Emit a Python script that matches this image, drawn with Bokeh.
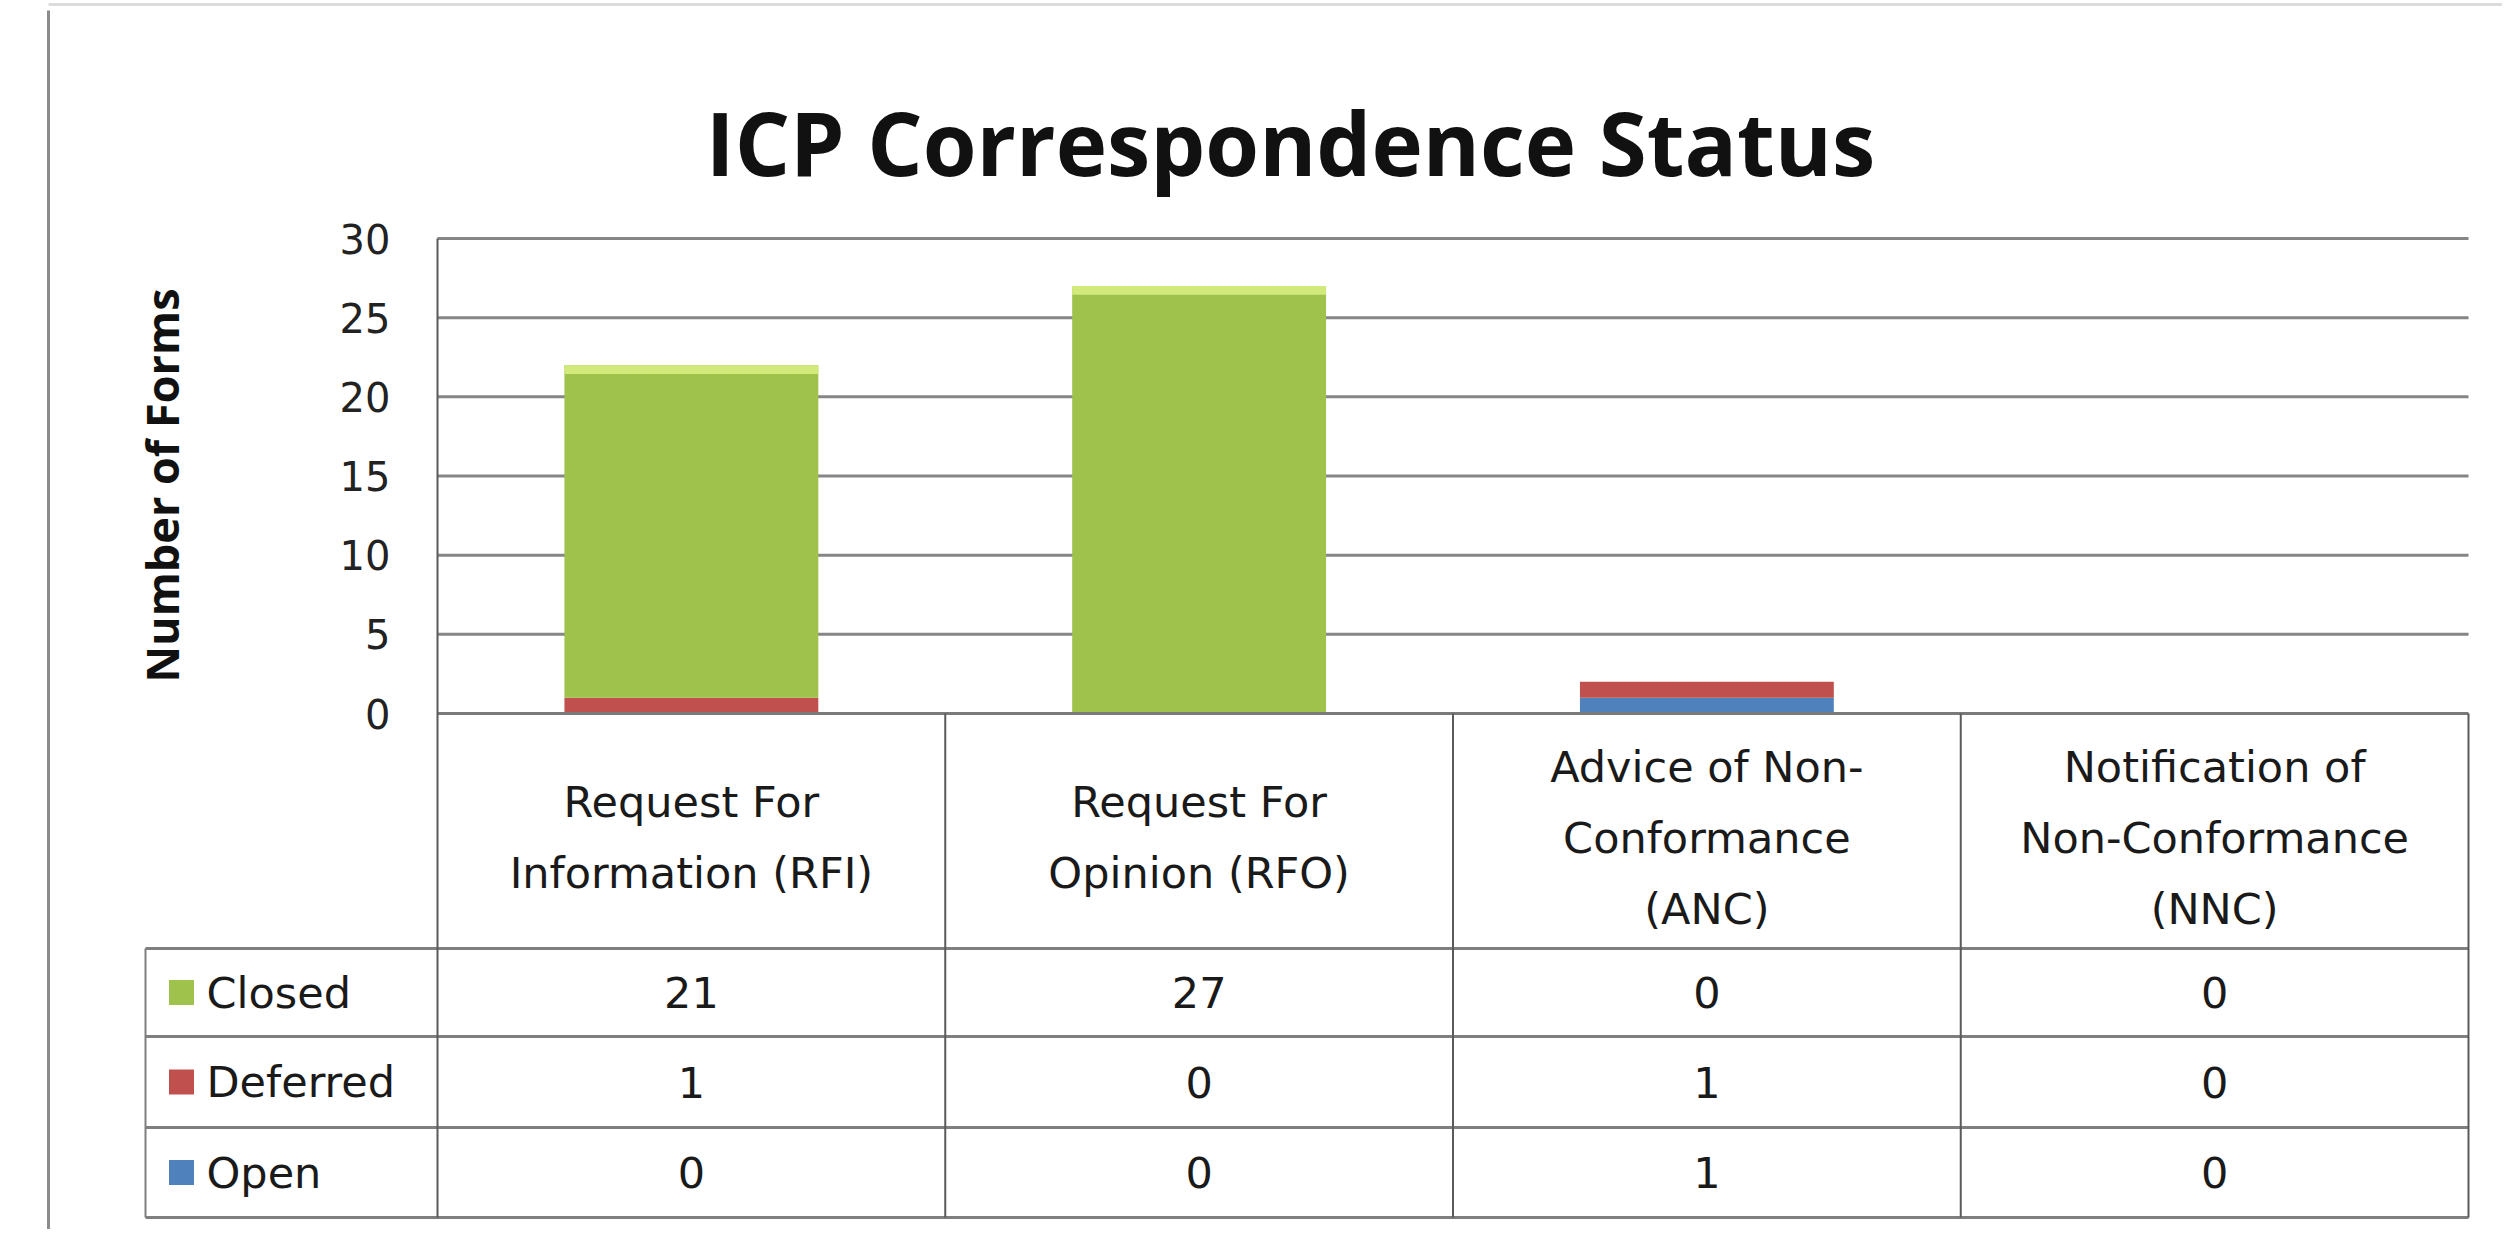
import math
from bokeh.plotting import figure
from bokeh.models import ColumnDataSource, Range1d
from bokeh.core.properties import value
from bokeh.embed import file_html
from bokeh.resources import INLINE

# ---------------- data ----------------
title_text = "ICP Correspondence Status"
y_axis_title = "Number of Forms"
category_lines = [
    ["Request For", "Information (RFI)"],
    ["Request For", "Opinion (RFO)"],
    ["Advice of Non-", "Conformance", "(ANC)"],
    ["Notification of", "Non-Conformance", "(NNC)"],
]
series_names = ["Closed", "Deferred", "Open"]
closed = [21, 27, 0, 0]
deferred = [1, 0, 1, 0]
open_ = [0, 0, 1, 0]
y_ticks = [0, 5, 10, 15, 20, 25, 30]
y_tick_labels = ["0", "5", "10", "15", "20", "25", "30"]
series_colors = {"Closed": "#9fc24c", "Deferred": "#c0504d", "Open": "#4f81bd"}

# ---------------- layout (pixel calibration) ----------------
W, H = 2502, 1229
MARGIN = 0
X0_PX, X4_PX = 437, 2468        # x = 0 .. 4 (category slots)
Y0_PX, Y30_PX = 713, 238        # y = 0 .. 30
PXX = (X4_PX - X0_PX) / 4.0
PXY = (Y0_PX - Y30_PX) / 30.0


def fx(px):
    return (px - X0_PX) / PXX


def fy(py):
    return (Y0_PX - py) / PXY


p = figure(width=W, height=H, output_backend="svg", toolbar_location=None,
           x_range=Range1d(fx(MARGIN), fx(MARGIN + W)),
           y_range=Range1d(fy(MARGIN + H), fy(MARGIN)),
           x_axis_type=None, y_axis_type=None, min_border=0)
p.grid.visible = False
p.outline_line_color = None
p.background_fill_color = "white"
p.border_fill_color = "white"

n = len(closed)
xs = [i + 0.5 for i in range(n)]

# outer frame decoration
p.segment(x0=[fx(48)], y0=[fy(10)], x1=[fx(48)], y1=[fy(1237)],
          line_color="#8c8c8c", line_width=3)
p.segment(x0=[fx(48), fx(48)], y0=[fy(4), fy(1237)], x1=[fx(2530), fx(2530)],
          y1=[fy(4), fy(1237)], line_color="#dcdcdc", line_width=3)

# gridlines
grid_src = ColumnDataSource(dict(y=[t for t in y_ticks if t > 0]))
p.segment(x0=0, y0="y", x1=n, y1="y", source=grid_src,
          line_color="#868686", line_width=3)

# bars
bar_src = ColumnDataSource(dict(x=xs, Closed=closed, Deferred=deferred, Open=open_))
stack_order = ["Open", "Deferred", "Closed"]
p.vbar_stack(stack_order, x="x", width=0.5, source=bar_src,
             color=[series_colors[s] for s in stack_order], line_color=None)
# highlight bevel on top of the green segments
totals = [c + d + o for c, d, o in zip(closed, deferred, open_)]
hl = [(x, t) for x, t, c in zip(xs, totals, closed) if c > 0]
hl_src = ColumnDataSource(dict(x=[h[0] for h in hl], top=[h[1] for h in hl],
                               bottom=[h[1] - 0.55 for h in hl]))
p.vbar(x="x", top="top", bottom="bottom", width=0.5, source=hl_src,
       fill_color="#d2ea7c", line_color=None)

# y tick labels
tick_src = ColumnDataSource(dict(y=y_ticks, t=y_tick_labels))
p.text(x=fx(390), y="y", text="t", source=tick_src, text_align="right",
       text_baseline="middle", text_font=value("DejaVu Sans"),
       text_font_size="40px", text_color="#222222")

# y axis title
p.text(x=[fx(161)], y=[fy(485)], text=[y_axis_title], angle=math.pi / 2,
       text_align="center", text_baseline="middle",
       text_font=value("Open Sans"), text_font_style="bold",
       text_font_size="45px", text_color="#111111")

# title
p.text(x=[fx(1290)], y=[fy(141)], text=[title_text], text_align="center",
       text_baseline="alphabetic", text_font=value("Open Sans"),
       text_font_style="bold", text_font_size="87px", text_color="#111111")

# ---------------- data table ----------------
row_edges_px = [948, 1036, 1127, 1217]
legend_left_px = 145
table_bottom = fy(row_edges_px[-1])

# horizontal lines
p.segment(x0=[0], y0=[0], x1=[n], y1=[0], line_color="#7a7a7a", line_width=3)
p.segment(x0=[fx(legend_left_px)] * len(row_edges_px), y0=[fy(r) for r in row_edges_px],
          x1=[n] * len(row_edges_px), y1=[fy(r) for r in row_edges_px],
          line_color="#7f7f7f", line_width=3)
# vertical lines
p.segment(x0=[0], y0=[y_ticks[-1]], x1=[0], y1=[table_bottom],
          line_color="#5a5a5a", line_width=2)
p.segment(x0=list(range(1, n + 1)), y0=[0] * n, x1=list(range(1, n + 1)),
          y1=[table_bottom] * n, line_color="#5a5a5a", line_width=2)
p.segment(x0=[fx(legend_left_px)], y0=[fy(row_edges_px[0])], x1=[fx(legend_left_px)],
          y1=[table_bottom], line_color="#7f7f7f", line_width=2)

TABLE_FONT = value("DejaVu Sans")
TABLE_SIZE = "43px"

# category labels
cx, cy, ct = [], [], []
for i, lines in enumerate(category_lines):
    k = len(lines)
    for j, ln in enumerate(lines):
        cx.append(xs[i])
        cy.append(fy(837 + (j - (k - 1) / 2.0) * 71))
        ct.append(ln)
p.text(x=cx, y=cy, text=ct, text_align="center", text_baseline="middle",
       text_font=TABLE_FONT, text_font_size=TABLE_SIZE, text_color="#1a1a1a")

# rows
row_values = {"Closed": closed, "Deferred": deferred, "Open": open_}
row_centres = [fy((row_edges_px[i] + row_edges_px[i + 1]) / 2.0) for i in range(3)]
vx, vy, vt = [], [], []
for r, s in enumerate(series_names):
    for i, v in enumerate(row_values[s]):
        vx.append(xs[i])
        vy.append(row_centres[r])
        vt.append(str(v))
p.text(x=vx, y=vy, text=vt, text_align="center", text_baseline="middle",
       text_font=TABLE_FONT, text_font_size=TABLE_SIZE, text_color="#1a1a1a")

# legend keys and names
p.scatter(x=[fx(181)] * 3, y=row_centres, marker="square", size=25,
          fill_color=[series_colors[s] for s in series_names], line_color=None)
p.text(x=[fx(206)] * 3, y=row_centres, text=series_names, text_align="left",
       text_baseline="middle", text_font=TABLE_FONT, text_font_size=TABLE_SIZE,
       text_color="#1a1a1a")

open("out.html", "w").write(file_html(p, INLINE))
